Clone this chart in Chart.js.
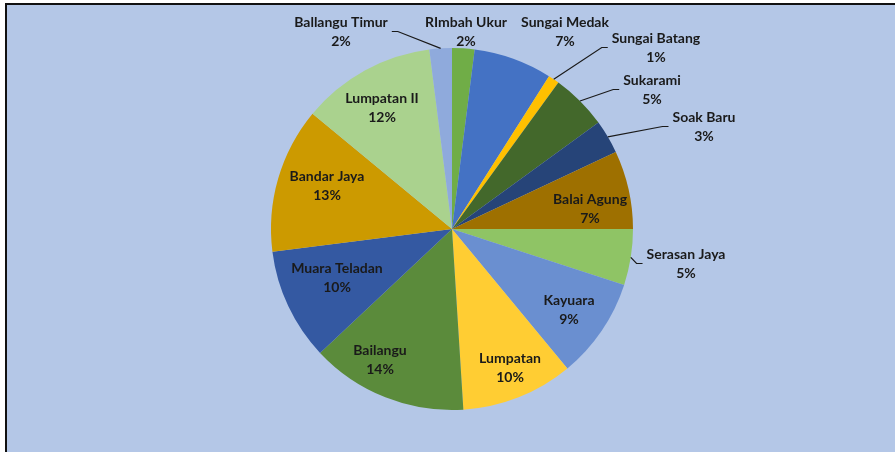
<!DOCTYPE html>
<html>
<head>
<meta charset="utf-8">
<script src="https://cdn.jsdelivr.net/npm/chart.js@4"></script>
<style>
  html, body { margin: 0; padding: 0; background: #fff; }
  #frame {
    position: absolute; left: 5px; top: 3px; width: 890px; height: 449px;
    background: #b4c7e7; border-top: 2px solid #111; border-left: 2px solid #111;
  }
  #wrap { position: absolute; left: 0; top: 0; width: 895px; height: 452px; }
</style>
</head>
<body>
<div id="frame"></div>
<div id="wrap"><canvas id="pie" width="895" height="452"></canvas></div>
<script>
// districts, clockwise from 12 o'clock
const categories = ["RImbah Ukur", "Sungai Medak", "Sungai Batang", "Sukarami", "Soak Baru",
  "Balai Agung", "Serasan Jaya", "Kayuara", "Lumpatan", "Bailangu", "Muara Teladan",
  "Bandar Jaya", "Lumpatan II", "Ballangu Timur"];
const shares = [2, 7, 1, 5, 3, 7, 5, 9, 10, 14, 10, 13, 12, 2];
const sliceColors = ["#70ad47", "#4472c4", "#ffc000", "#43682b", "#264478", "#9e7000",
  "#8fc465", "#6a8fd0", "#ffcd33", "#5b8b3b", "#3459a2", "#cc9a00", "#aad28e", "#8faadc"];

// label placement (name line centre, px from pie centre) and whether a leader line is drawn
const labelOffsets = [[14, -207], [113, -207], [204, -191], [200, -149], [252, -112],
  [138, -30], [234, 25], [117, 71], [58, 129], [-72, 121], [-115, 39],
  [-125, -53], [-70, -131], [-111, -207]];
const leaders = [false, false, true, true, true, false, true, false, false, false, false, false, false, true];

const LABEL_FONT = "bold 14px Lato, 'Liberation Sans', sans-serif";
const LINE_GAP = 19;

const pieLabels = {
  id: "pieLabels",
  afterDatasetsDraw(chart) {
    const ctx = chart.ctx;
    const arcs = chart.getDatasetMeta(0).data;
    const total = shares.reduce((a, b) => a + b, 0);
    ctx.save();
    ctx.font = LABEL_FONT;
    ctx.textAlign = "center";
    ctx.textBaseline = "middle";
    arcs.forEach((arc, i) => {
      const { x, y, startAngle, endAngle, outerRadius } = arc.getProps(["x", "y", "startAngle", "endAngle", "outerRadius"], true);
      const lx = x + labelOffsets[i][0];
      const ly = y + labelOffsets[i][1];
      const name = categories[i];
      const pct = Math.round(shares[i] / total * 100) + "%";

      if (leaders[i]) {
        const mid = (startAngle + endAngle) / 2;
        const sx = x + Math.cos(mid) * outerRadius;
        const sy = y + Math.sin(mid) * outerRadius;
        const w = ctx.measureText(name).width;
        const my = ly + LINE_GAP / 2;
        const right = lx > x;
        const ex = right ? lx - w / 2 - 4 : lx + w / 2 + 4;
        ctx.strokeStyle = "#1a1a1a";
        ctx.lineWidth = 1.2;
        ctx.beginPath();
        ctx.moveTo(sx, sy);
        ctx.lineTo(right ? ex - 6 : ex + 6, my);
        ctx.lineTo(ex, my);
        ctx.stroke();
      }

      ctx.fillStyle = "#1a1a1a";
      ctx.fillText(name, lx, ly);
      ctx.fillText(pct, lx, ly + LINE_GAP);
    });
    ctx.restore();
  }
};

new Chart(document.getElementById("pie"), {
  type: "pie",
  data: {
    labels: categories,
    datasets: [{
      data: shares,
      backgroundColor: sliceColors,
      borderWidth: 0
    }]
  },
  options: {
    responsive: false,
    animation: false,
    layout: { padding: { top: 48, bottom: 42, left: 9, right: 0 } },
    plugins: {
      legend: { display: false },
      tooltip: { enabled: false }
    }
  },
  plugins: [pieLabels]
});
</script>
</body>
</html>
